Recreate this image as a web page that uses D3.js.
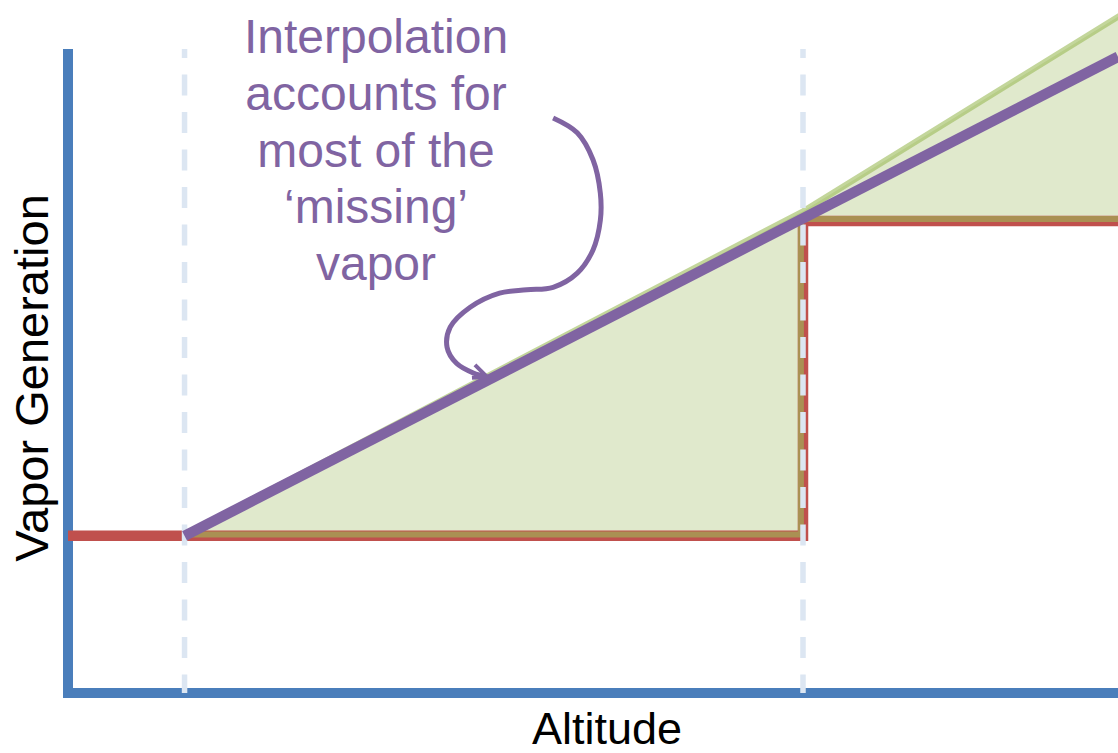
<!DOCTYPE html>
<html>
<head>
<meta charset="utf-8">
<script src="https://cdn.jsdelivr.net/npm/d3@7.9.0/dist/d3.min.js"></script>
<style>
  html, body { margin: 0; padding: 0; background: #fff; overflow: hidden; }
  svg { display: block; font-family: "Liberation Sans", Arial, sans-serif; }
</style>
</head>
<body>
<div id="chart"></div>
<script>
/* ------------------------------
 Data (altitude 0–100, vapor generation 0–10)
------------------------------ */
// discrete levels: vapor stays constant between altitude marks
const stepSeries = [
  [0, 2.44],
  [70, 7.33],
  [100, 7.33],
];

// linear interpolation between the level marks
const interpSeries = [
  [11.1, 2.44],
  [100, 9.88],
];

// shaded "missing" vapor region: upper edge and lower edge
// (runs slightly past the right edge of the picture, as in the source)
const areaUpper = [
  [11.1, 2.46],
  [70, 7.48],
  [100.6, 10.56],
];
const areaLower = [
  [100.6, 7.36],
  [69.8, 7.36],
  [69.8, 2.46],
];

// altitude marks (dashed guides)
const altitudeMarks = [11.1, 70];

// callout curve, in data units
const calloutPath = [
  [46.2, 8.93], [48.5, 8.70], [50.0, 8.28], [50.7, 7.76], [50.7, 7.34],
  [50.0, 6.88], [48.5, 6.52], [46.2, 6.30], [43.7, 6.26], [41.1, 6.21],
  [38.3, 5.99], [36.4, 5.68], [36.1, 5.37], [37.0, 5.12], [38.6, 4.97],
  [39.9, 4.91],
];

const noteLines = ["Interpolation", "accounts for", "most of the", "\u2018missing\u2019", "vapor"];

/* ------------------------------
 Layout
------------------------------ */
const width = 1118;
const height = 753;
const plot = { left: 68, right: 1118, top: 49, bottom: 693 };

const colors = {
  axis: "#4a7ebb",
  red: "#c0504d",
  green: "#9bbb59",
  fill: "#e0e9cc",
  purple: "#8064a2",
  guide: "#dce6f2",
};

const svg = d3.select("#chart")
  .append("svg")
  .attr("width", width)
  .attr("height", height)
  .attr("viewBox", `0 0 ${width} ${height}`);

// --- Scales ---
const x = d3.scaleLinear().domain([0, 100]).range([plot.left, plot.right]);
const y = d3.scaleLinear().domain([0, 10]).range([plot.bottom, plot.top]);

const line = d3.line().x((d) => x(d[0])).y((d) => y(d[1]));

// --- Axes (plain lines, no ticks) ---
svg.append("path")
  .attr("d", `M${x(0)},${y(10)}V${y(0)}H${x(100)}`)
  .attr("fill", "none")
  .attr("stroke", colors.axis)
  .attr("stroke-width", 10)
  .attr("stroke-linejoin", "miter");

// --- Shaded region ---
const region = line(areaUpper.concat(areaLower)) + "Z";
svg.append("path")
  .attr("d", region)
  .attr("fill", colors.fill)
  .attr("stroke", "none");

// --- Step series ---
svg.append("path")
  .attr("d", d3.line().x((d) => x(d[0])).y((d) => y(d[1])).curve(d3.curveStepAfter)(stepSeries))
  .attr("fill", "none")
  .attr("stroke", colors.red)
  .attr("stroke-width", 10.5);

// --- Outline of shaded region ---
svg.append("path")
  .attr("d", region)
  .attr("fill", "none")
  .attr("stroke", colors.green)
  .attr("stroke-opacity", 0.6)
  .attr("stroke-width", 6);

// --- Dashed guides ---
svg.append("g")
  .selectAll("line")
  .data(altitudeMarks)
  .join("line")
  .attr("x1", (d) => x(d))
  .attr("x2", (d) => x(d))
  .attr("y1", y(10))
  .attr("y2", y(0))
  .attr("stroke", colors.guide)
  .attr("stroke-width", 5.5)
  .attr("stroke-dasharray", "21 16.5")
  .attr("stroke-dashoffset", 12);

// --- Interpolated line ---
svg.append("path")
  .attr("d", line(interpSeries))
  .attr("fill", "none")
  .attr("stroke", colors.purple)
  .attr("stroke-width", 10.5);

// --- Callout ---
svg.append("path")
  .attr("d", d3.line().x((d) => x(d[0])).y((d) => y(d[1])).curve(d3.curveCatmullRom)(calloutPath))
  .attr("fill", "none")
  .attr("stroke", colors.purple)
  .attr("stroke-width", 5);

// small arrow head at the end of the callout
const tip = calloutPath[calloutPath.length - 1];
const tx = x(tip[0]), ty = y(tip[1]);
svg.append("path")
  .attr("d", `M${tx - 12},${ty - 12}L${tx},${ty}L${tx - 15},${ty + 1}`)
  .attr("fill", "none")
  .attr("stroke", colors.purple)
  .attr("stroke-width", 4);

svg.append("g")
  .attr("fill", colors.purple)
  .attr("font-size", "48px")
  .attr("text-anchor", "middle")
  .selectAll("text")
  .data(noteLines)
  .join("text")
  .attr("x", 376)
  .attr("y", (d, i) => 53 + i * 56.8)
  .text((d) => d);

// --- Axis labels ---
svg.append("text")
  .attr("x", 607)
  .attr("y", 744)
  .attr("text-anchor", "middle")
  .attr("font-size", "45px")
  .attr("fill", "#000")
  .text("Altitude");

svg.append("text")
  .attr("transform", "translate(48,378) rotate(-90)")
  .attr("text-anchor", "middle")
  .attr("font-size", "47px")
  .attr("fill", "#000")
  .text("Vapor Generation");
</script>
</body>
</html>
